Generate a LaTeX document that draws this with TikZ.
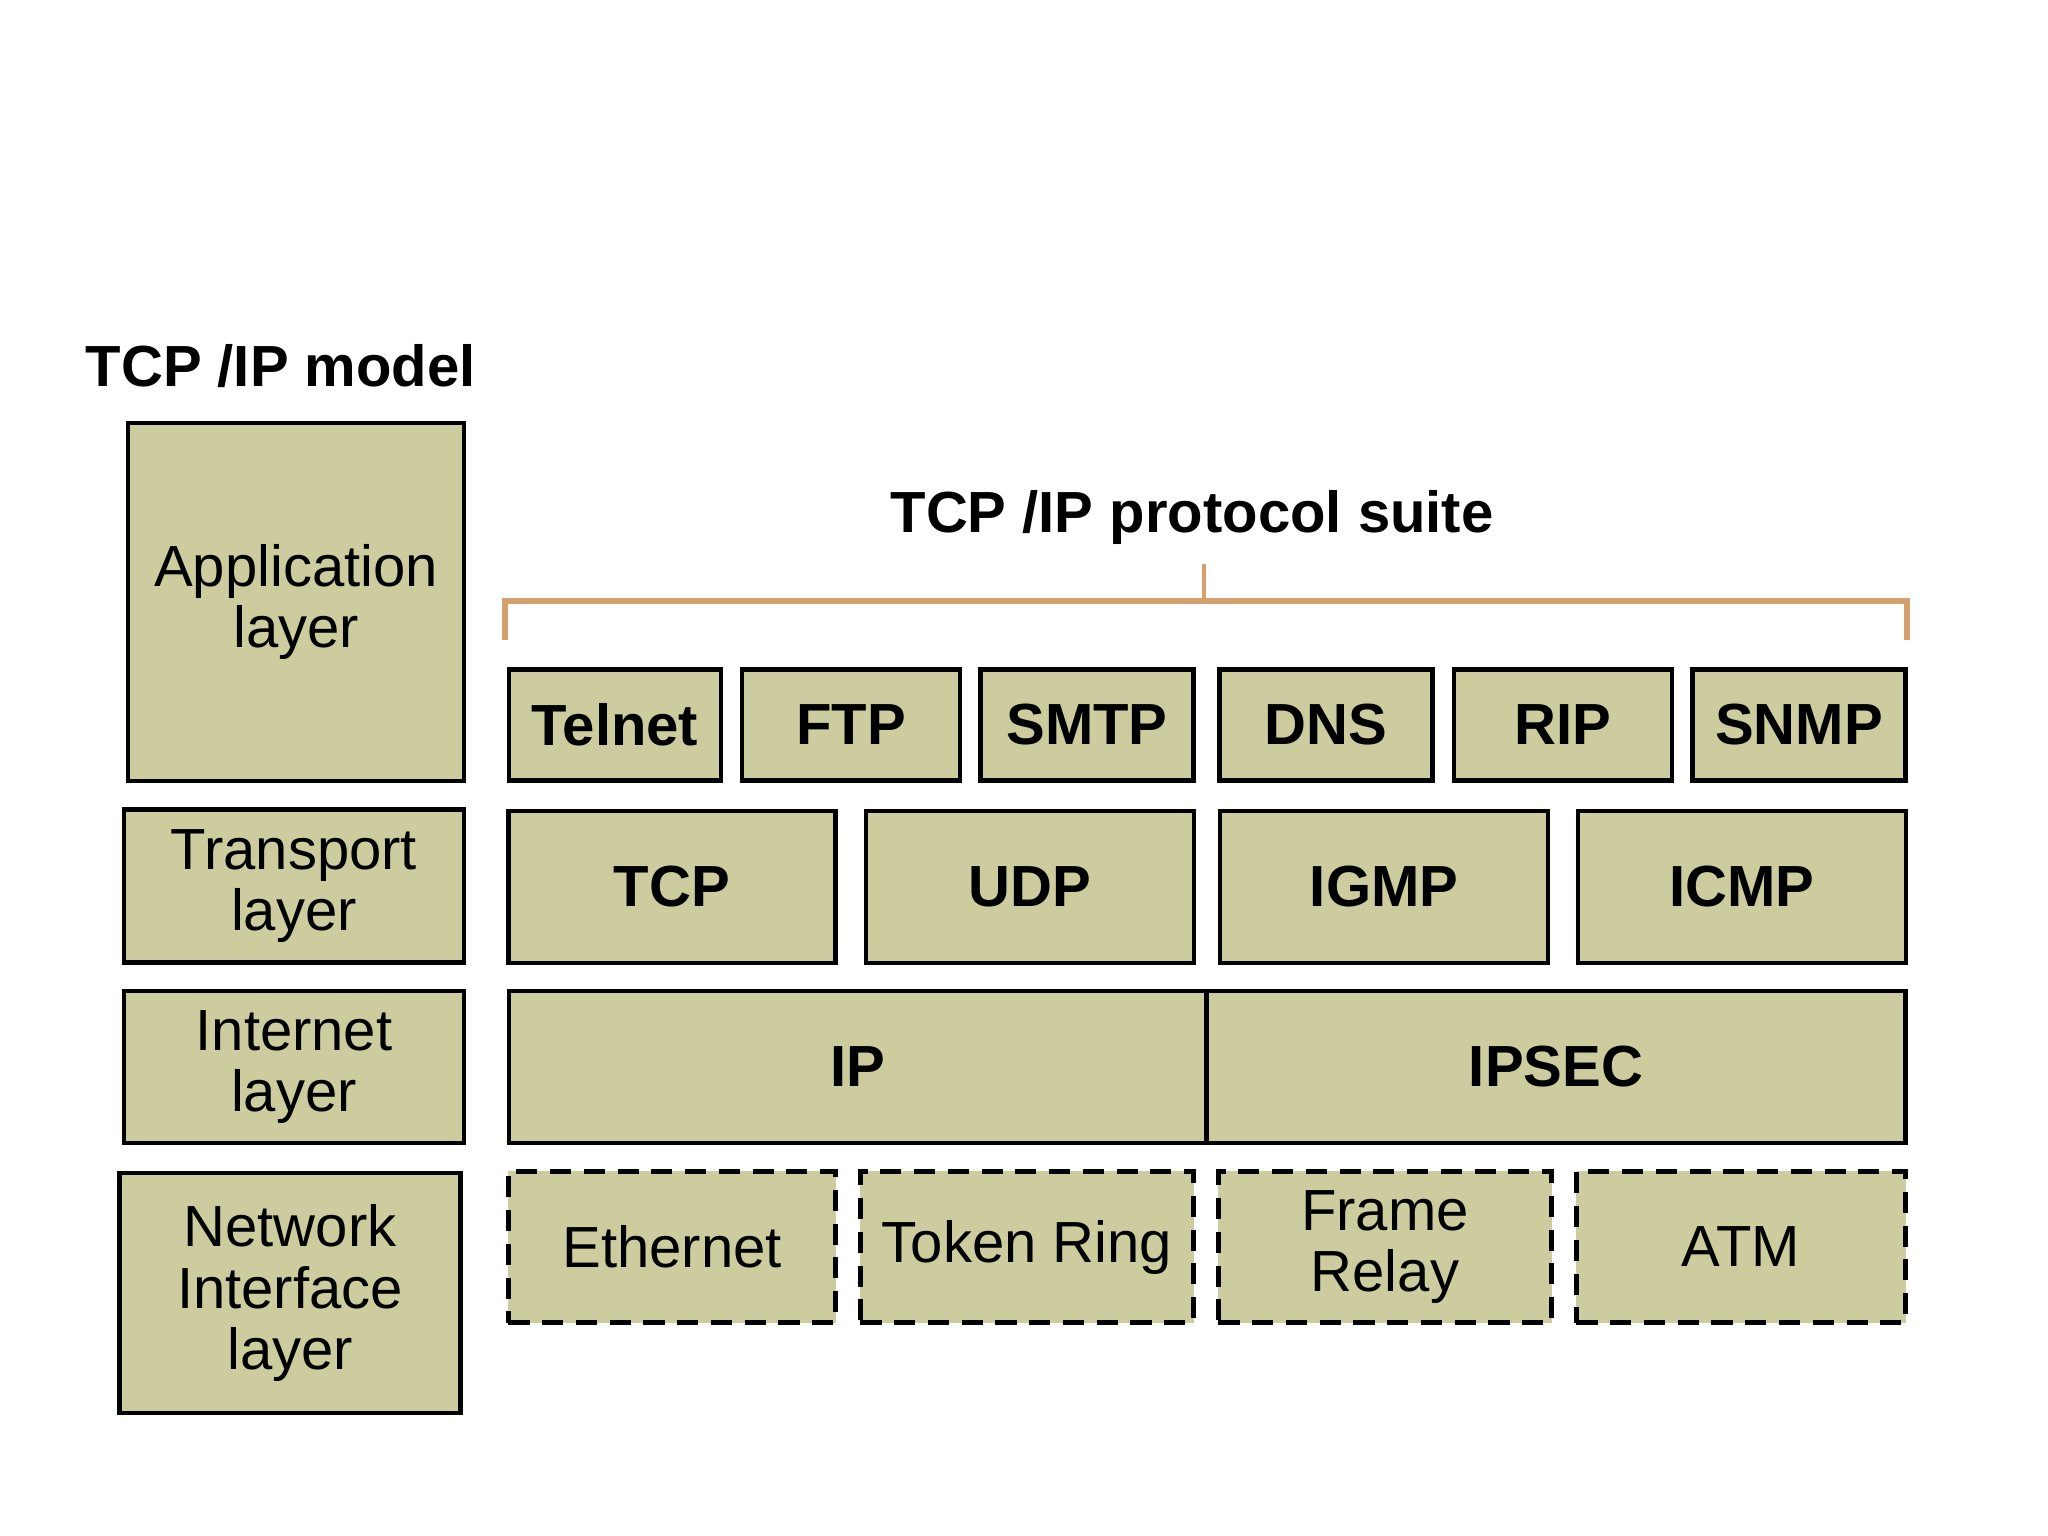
\documentclass[tikz,border=0pt]{standalone}
\usepackage{fontspec}
\setmainfont{Liberation Sans}
\usepackage{tikz}
\usetikzlibrary{positioning}

\definecolor{boxfill}{RGB}{204,204,158}
\definecolor{bracecol}{RGB}{212,160,110}

\tikzset{
	layer/.style={draw, fill=boxfill, line width=1.3pt, inner sep=0pt, align=center,
		font=\fontsize{16.5}{17.5}\selectfont},
	proto/.style={layer, font=\fontsize{16.5}{17.5}\selectfont\bfseries},
	link/.style={layer, dash pattern=on 6pt off 3.6pt},
	title/.style={font=\fontsize{16.5}{18}\selectfont\bfseries, inner sep=0pt}
}

\begin{document}
\begin{tikzpicture}[x=0.01cm, y=-0.01cm]
				\useasboundingbox (0,0) rectangle (2048,1536);
				
				\node[title, anchor=west] (model) at (85,366) {TCP /IP model};
				\node[title] (suite) at (1192,517) {TCP /IP protocol suite};
				
				\node[layer, minimum width=3.36cm, minimum height=3.58cm] (app) at (296,602) {Application\\layer};
				\node[layer, minimum width=3.40cm, minimum height=1.53cm] (trans) at (294,886) {Transport\\layer};
				\node[layer, minimum width=3.40cm, minimum height=1.52cm] (inet) at (294,1067) {Internet\\layer};
				\node[layer, minimum width=3.41cm, minimum height=2.40cm] (netw) at (290,1293) {Network\\Interface\\layer};
				
				\node[proto, minimum width=2.12cm, minimum height=1.11cm] (telnet) at (615,725) {Telnet};
				\node[proto, minimum width=2.18cm, minimum height=1.11cm] (ftp) at (851,725) {FTP};
				\node[proto, minimum width=2.13cm, minimum height=1.11cm] (smtp) at (1087,725) {SMTP};
				\node[proto, minimum width=2.13cm, minimum height=1.11cm] (dns) at (1326,725) {DNS};
				\node[proto, minimum width=2.18cm, minimum height=1.11cm] (rip) at (1563,725) {RIP};
				\node[proto, minimum width=2.13cm, minimum height=1.11cm] (snmp) at (1799,725) {SNMP};
				
				\node[proto, minimum width=3.27cm, minimum height=1.52cm] (tcp) at (672,887) {TCP};
				\node[proto, minimum width=3.28cm, minimum height=1.52cm] (udp) at (1030,887) {UDP};
				\node[proto, minimum width=3.28cm, minimum height=1.52cm] (igmp) at (1384,887) {IGMP};
				\node[proto, minimum width=3.28cm, minimum height=1.52cm] (icmp) at (1742,887) {ICMP};
				
				\node[proto, minimum width=6.98cm, minimum height=1.52cm] (ip) at (858,1067) {IP};
				\node[proto, minimum width=6.99cm, minimum height=1.52cm] (ipsec) at (1556,1067) {IPSEC};
				
				\node[link, minimum width=3.27cm, minimum height=1.51cm] (eth) at (672,1247) {Ethernet};
				\node[link, minimum width=3.33cm, minimum height=1.51cm] (token) at (1027,1247) {Token Ring};
				\node[link, minimum width=3.33cm, minimum height=1.51cm] (frame) at (1385,1247) {Frame\\Relay};
				\node[link, minimum width=3.29cm, minimum height=1.51cm] (atm) at (1741,1247) {ATM};
				
				% brace over the suite
				\coordinate (bl) at (505,640);
				\coordinate (br) at (1907,640);
				\coordinate (bm) at (1204,601);
				\draw[bracecol, line width=1.9pt] (bl) |- (bm) -| (br);
				\draw[bracecol, line width=1.4pt] (bm) -- ++(0,-37);
			\end{tikzpicture}
\end{document}
